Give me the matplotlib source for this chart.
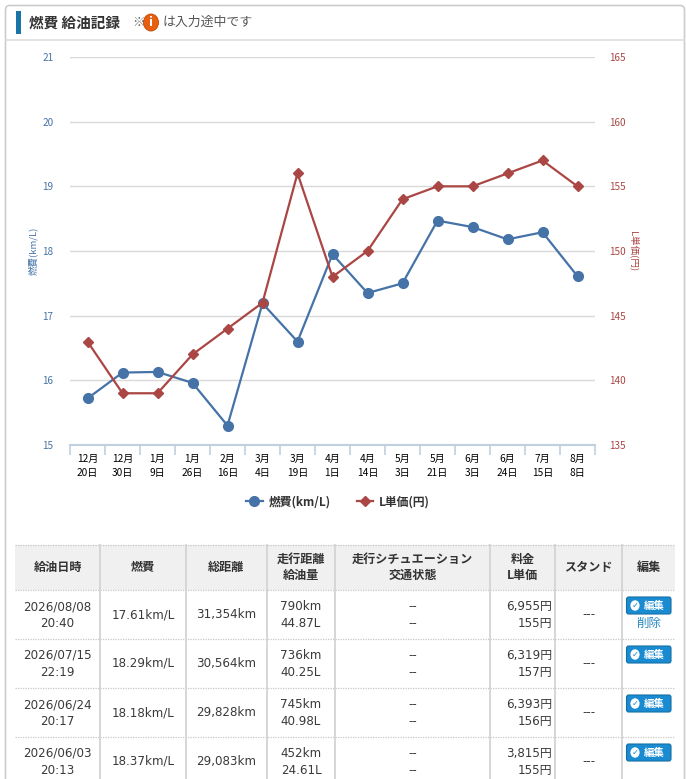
import matplotlib
matplotlib.use("Agg")
import matplotlib.pyplot as plt
import numpy as np
from matplotlib.patches import Rectangle, FancyBboxPatch, Circle
from matplotlib.lines import Line2D

plt.rcParams['font.family'] = ['Noto Sans CJK JP', 'DejaVu Sans']

# ---------------- data ----------------
months = ["12月", "12月", "1月", "1月", "2月", "3月", "3月", "4月", "4月", "5月", "5月", "6月", "6月", "7月", "8月"]
days = ["20日", "30日", "9日", "26日", "16日", "4日", "19日", "1日", "14日", "3日", "21日", "3日", "24日", "15日", "8日"]
fuel_economy = [15.72, 16.12, 16.13, 15.96, 15.30, 17.19, 16.60, 17.95, 17.35, 17.50, 18.47, 18.37, 18.18, 18.29, 17.61]
unit_price = [143, 139, 139, 142, 144, 146, 156, 148, 150, 154, 155, 155, 156, 157, 155]
left_ticks = [15, 16, 17, 18, 19, 20, 21]
right_ticks = [135, 140, 145, 150, 155, 160, 165]

table_headers = ["給油日時", "燃費", "総距離", "走行距離\n給油量", "走行シチュエーション\n交通状態", "料金\nL単価", "スタンド", "編集"]
row_dates = ["2026/08/08", "2026/07/15", "2026/06/24", "2026/06/03"]
row_times = ["20:40", "22:19", "20:17", "20:13"]
row_economy = ["17.61km/L", "18.29km/L", "18.18km/L", "18.37km/L"]
row_total = ["31,354km", "30,564km", "29,828km", "29,083km"]
row_distance = ["790km", "736km", "745km", "452km"]
row_liters = ["44.87L", "40.25L", "40.98L", "24.61L"]
row_cost = ["6,955円", "6,319円", "6,393円", "3,815円"]
row_price = ["155円", "157円", "156円", "155円"]

W, H = 686, 779
fig = plt.figure(figsize=(W / 100, H / 100), dpi=100)
fig.patch.set_facecolor('white')

def fx(x):
    return x / W

def fy(y):
    return 1 - y / H

BLUE = '#4572a7'
RED = '#aa4643'
TXT = '#333333'
NUMFONT = ['DejaVu Sans', 'Noto Sans CJK JP']

# ---------------- panel frame & title ----------------
fig.patches.append(FancyBboxPatch((fx(5.5), fy(800)), fx(679), (800 - 5.5) / H,
                                  boxstyle="round,pad=0,rounding_size=0.006",
                                  transform=fig.transFigure, facecolor='none',
                                  edgecolor='#cccccc', lw=1.2, zorder=0))
fig.add_artist(Line2D([fx(6), fx(684)], [fy(40), fy(40)], color='#dddddd', lw=1.2,
                      transform=fig.transFigure))
fig.patches.append(Rectangle((fx(16), fy(34)), fx(4.5), 23 / H, transform=fig.transFigure,
                             facecolor='#1a74a8', edgecolor='none'))
fig.text(fx(29), fy(22.5), "燃費 給油記録", fontsize=10.5, fontweight='bold', color=TXT,
         va='center', ha='left')
fig.text(fx(132), fy(22.5), "※", fontsize=9, color='#666666', va='center', ha='left')
fig.patches.append(Circle((fx(151), fy(22.5)), 7.5 / W, transform=fig.transFigure,
                          facecolor='#e8600f', edgecolor='#c04a00', lw=0.6))
fig.text(fx(151), fy(22.5), "i", fontsize=8.5, fontweight='bold', color='white',
         va='center', ha='center', family='DejaVu Sans')
fig.text(fx(163), fy(22.5), "は入力途中です", fontsize=9.3, color='#555555', va='center', ha='left')

# ---------------- chart ----------------
ax = fig.add_axes([fx(70), fy(445), 525 / W, 388 / H])
ax2 = ax.twinx()
x = np.arange(len(fuel_economy))

ax.set_xlim(-0.5, len(x) - 0.5)
ax.set_ylim(15, 21)
ax2.set_ylim(135, 165)

for a in (ax, ax2):
    for s in a.spines.values():
        s.set_visible(False)
ax.spines['bottom'].set_visible(True)
ax.spines['bottom'].set_color('#c0d0e0')
ax.spines['bottom'].set_linewidth(1.5)
ax.spines['bottom'].set_zorder(3)

ax.set_yticks(left_ticks)
ax.set_yticklabels([str(v) for v in left_ticks])
ax.tick_params(axis='y', length=0, pad=12, labelsize=7.2, labelcolor=BLUE)
ax2.set_yticks(right_ticks)
ax2.set_yticklabels([str(v) for v in right_ticks])
ax2.tick_params(axis='y', length=0, pad=10, labelsize=7.2, labelcolor=RED)
ax.yaxis.grid(True, color='#d9d9d9', lw=1.0)
ax.set_axisbelow(True)

ax.set_xticks(x)
ax.set_xticklabels([m + "\n" + d for m, d in zip(months, days)], linespacing=1.55)
ax.tick_params(axis='x', which='major', length=0, pad=6.5, labelsize=7.3, labelcolor='black')
ax.set_xticks(np.arange(-0.5, len(x), 1), minor=True)
ax.tick_params(axis='x', which='minor', length=7.5, width=1.2, color='#c0d0e0', direction='out')

ax.set_ylabel("燃費(km/L)", fontsize=6.8, color=BLUE, labelpad=3)
ax2.set_ylabel("L単価(円)", fontsize=6.8, color=RED, rotation=270, labelpad=9)

l1, = ax.plot(x, fuel_economy, color=BLUE, lw=1.6, marker='o', markersize=7,
              clip_on=False, zorder=4, label="燃費(km/L)")
l2, = ax2.plot(x, unit_price, color=RED, lw=1.6, marker='D', markersize=4.8,
               clip_on=False, zorder=4, label="L単価(円)")

fig.legend([l1, l2], ["燃費(km/L)", "L単価(円)"], loc='center',
           bbox_to_anchor=(fx(338), fy(502)), ncol=2, frameon=False,
           prop={'size': 8.5, 'weight': 'bold'}, handlelength=1.4, handletextpad=0.5,
           columnspacing=2.2, labelcolor='#333333')

# ---------------- table ----------------
col_edges = [15, 100, 186, 267, 335, 490, 555, 622, 675]
header_top, header_bot = 545, 590
row_h = 49
n_rows = len(row_dates)

fig.patches.append(Rectangle((fx(15), fy(header_bot)), (675 - 15) / W, (header_bot - header_top) / H,
                             transform=fig.transFigure, facecolor='#f0f0f0', edgecolor='none', zorder=1))
for i, h in enumerate(table_headers):
    cx = (col_edges[i] + col_edges[i + 1]) / 2
    fig.text(fx(cx), fy(567.5), h, fontsize=8.7, fontweight='bold', color=TXT,
             ha='center', va='center', linespacing=1.35, zorder=3)

# horizontal dotted separators
for yy in [header_top, header_bot] + [header_bot + row_h * (k + 1) for k in range(n_rows - 1)]:
    fig.add_artist(Line2D([fx(15), fx(675)], [fy(yy), fy(yy)], color='#c8c8c8', lw=0.9,
                          ls=(0, (1, 1)), transform=fig.transFigure, zorder=2))
# vertical separators
for xx in col_edges[1:-1]:
    fig.add_artist(Line2D([fx(xx), fx(xx)], [fy(header_top), fy(H + 10)], color='#d6d6d6', lw=1.4,
                          transform=fig.transFigure, zorder=2))

body_fs = 8.6
for r in range(n_rows):
    top = header_bot + r * row_h
    cy = top + row_h / 2
    y1, y2 = cy - 8, cy + 9
    kw = dict(fontsize=body_fs, color='#3a3a3a', va='center', family=NUMFONT)
    fig.text(fx(57.5), fy(y1), row_dates[r], ha='center', **kw)
    fig.text(fx(57.5), fy(y2), row_times[r], ha='center', **kw)
    fig.text(fx(143), fy(cy), row_economy[r], ha='center', **kw)
    fig.text(fx(226.5), fy(cy), row_total[r], ha='center', **kw)
    fig.text(fx(301), fy(y1), row_distance[r], ha='center', **kw)
    fig.text(fx(301), fy(y2), row_liters[r], ha='center', **kw)
    fig.text(fx(412.5), fy(y1), "--", ha='center', **kw)
    fig.text(fx(412.5), fy(y2), "--", ha='center', **kw)
    fig.text(fx(552), fy(y1), row_cost[r], ha='right', **kw)
    fig.text(fx(552), fy(y2), row_price[r], ha='right', **kw)
    fig.text(fx(588.5), fy(cy), "---", ha='center', **kw)
    # edit button
    bt = top + 7
    fig.patches.append(FancyBboxPatch((fx(626.5), fy(bt + 17)), 44.5 / W, 17 / H,
                                      boxstyle="round,pad=0,rounding_size=0.003",
                                      transform=fig.transFigure, facecolor='#1a8bd0',
                                      edgecolor='#1470a8', lw=0.8, zorder=3))
    fig.patches.append(Circle((fx(635), fy(bt + 8.5)), 4.6 / W, transform=fig.transFigure,
                              facecolor='white', edgecolor='none', zorder=4))
    fig.text(fx(635), fy(bt + 8.5), "✓", fontsize=6, color='#1a8bd0', ha='center', va='center',
             family='DejaVu Sans', fontweight='bold', zorder=5)
    fig.text(fx(654), fy(bt + 8.5), "編集", fontsize=7.5, color='white', fontweight='bold',
             ha='center', va='center', zorder=5)
    if r == 0:
        fig.text(fx(648.5), fy(y2), "削除", fontsize=9, color='#2a88c0', ha='center', va='center')

fig.savefig("out.png", dpi=100, facecolor='white')
